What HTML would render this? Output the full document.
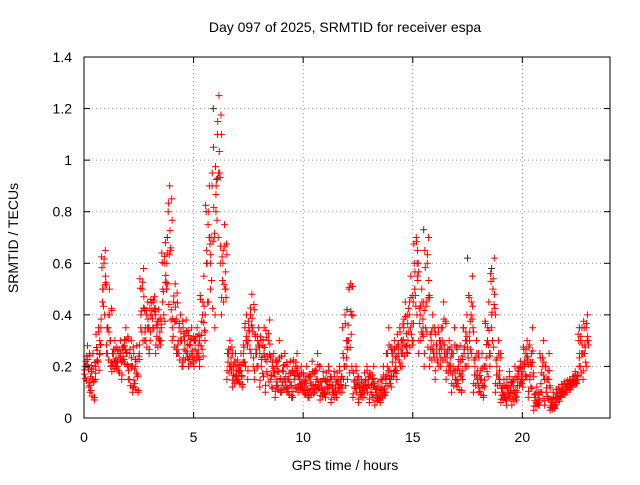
<!DOCTYPE html>
<html><head><meta charset="utf-8"><style>
body{margin:0;background:#fff;font-family:"Liberation Sans",sans-serif}
svg text{font-family:"Liberation Sans",sans-serif;font-size:14px;fill:#000}
</style></head><body>
<svg width="640" height="480">
<g id="grid"></g>
<g id="pts"></g>
<rect x="84" y="57" width="526" height="361" fill="none" stroke="#000"/>
<g id="ax"></g>
<text x="345" y="32" text-anchor="middle">Day 097 of 2025, SRMTID for receiver espa</text>
<text x="345" y="470" text-anchor="middle">GPS time / hours</text>
<text x="0" y="0" transform="translate(18,238) rotate(-90)" text-anchor="middle">SRMTID / TECUs</text>
</svg>
<script>
const xTicks=[0,5,10,15,20];
const yTicks=[0,0.2,0.4,0.6,0.8,1,1.2,1.4];
const yTickLabels=["0","0.2","0.4","0.6","0.8","1","1.2","1.4"];
const binStart=0,binStep=0.25;
const redValues=[
[.17,.22,.28,.12],[.10,.18,.25,.07],[.15,.22,.35,.30],[.35,.45,.6,.65],[.25,.35,.5,.2],[.18,.25,.3,.2],[.2,.25,.3,.15],[.22,.28,.35,.2],
[.15,.25,.3,.1],[.12,.2,.28,.1],[.25,.35,.5,.58],[.3,.4,.45,.25],[.3,.4,.45,.47],[.25,.35,.42,.3],[.3,.45,.6,.68],[.5,.8,.9,.38],
[.3,.45,.52,.25],[.25,.35,.4,.2],[.2,.3,.38,.25],[.2,.28,.35,.22],[.2,.3,.35,.25],[.2,.28,.4,.55],[.3,.6,.75,.9],[.5,.9,1.05,.35],
[.8,1.1,1.25,.6],[.4,.6,.75,.5],[.15,.25,.3,.2],[.12,.2,.25,.15],[.15,.18,.25,.12],[.25,.35,.4,.15],[.3,.4,.48,.2],[.15,.25,.3,.35],
[.12,.2,.28,.35],[.1,.18,.3,.38],[.15,.2,.25,.08],[.12,.18,.3,.1],[.1,.18,.25,.12],[.1,.15,.22,.08],[.08,.15,.2,.25],[.1,.15,.2,.12],
[.1,.12,.2,.08],[.08,.14,.22,.1],[.1,.15,.25,.12],[.07,.12,.18,.1],[.08,.12,.2,.15],[.06,.1,.18,.12],[.08,.12,.2,.15],[.1,.15,.4,.3],
[.15,.5,.52,.2],[.08,.12,.2,.15],[.06,.1,.15,.12],[.08,.12,.2,.15],[.06,.1,.15,.2],[.05,.1,.14,.08],[.06,.12,.2,.1],[.1,.2,.35,.15],
[.12,.25,.3,.2],[.15,.25,.35,.3],[.2,.35,.45,.28],[.25,.4,.55,.3],[.3,.5,.7,.65],[.25,.4,.5,.35],[.2,.35,.6,.7],[.2,.3,.4,.25],
[.15,.25,.35,.3],[.2,.3,.45,.25],[.15,.25,.3,.2],[.1,.2,.35,.15],[.12,.2,.28,.1],[.15,.25,.3,.4],[.2,.3,.4,.55],[.1,.2,.3,.15],
[.1,.15,.25,.08],[.12,.2,.3,.45],[.2,.35,.5,.62],[.1,.2,.3,.15],[.06,.1,.15,.08],[.05,.1,.18,.12],[.05,.12,.2,.08],[.1,.18,.22,.15],
[.12,.2,.25,.3],[.08,.15,.2,.35],[.03,.08,.12,.06],[.05,.1,.2,.3],[.05,.1,.15,.25],[.03,.06,.1,.04],[.05,.08,.12,.1],[.08,.1,.14,.12],
[.1,.12,.15,.14],[.12,.15,.18,.14],[.15,.2,.3,.35],[.15,.25,.35,.4]];
const darkTimes=[1.2,3.8,5.9,6.1,7.6,12.0,15.2,15.5,17.5,18.6,22.6];
const darkValues=[.3,.7,1.2,.93,.4,.42,.6,.73,.62,.58,.35];
const ns="http://www.w3.org/2000/svg";
const X=t=>84+t*(526/24), Y=v=>418-v*(361/1.4);
const grid=document.getElementById('grid'),ax=document.getElementById('ax'),pts=document.getElementById('pts');
function mk(tag,a,p){const e=document.createElementNS(ns,tag);for(const k in a)e.setAttribute(k,a[k]);p.appendChild(e);return e;}
yTicks.forEach((v,i)=>{
 if(i>0&&i<yTicks.length-1){const g=mk('line',{x1:84,x2:610,y1:Y(v),y2:Y(v),stroke:'#999','stroke-dasharray':'1,3'},grid);
 }
 const t=mk('line',{x1:84,x2:90,y1:Y(v),y2:Y(v),stroke:'#000'},ax);
 const t2=mk('line',{x1:604,x2:610,y1:Y(v),y2:Y(v),stroke:'#000'},ax);
 const l=mk('text',{x:72,y:Y(v)+5,'text-anchor':'end'},ax);l.textContent=yTickLabels[i];
 
});
xTicks.forEach(v=>{
 if(v>0){const g=mk('line',{x1:X(v),x2:X(v),y1:57,y2:418,stroke:'#999','stroke-dasharray':'1,3'},grid);
 }
 const t=mk('line',{x1:X(v),x2:X(v),y1:412,y2:418,stroke:'#000'},ax);
 const t2=mk('line',{x1:X(v),x2:X(v),y1:57,y2:63,stroke:'#000'},ax);
 const l=mk('text',{x:X(v),y:442,'text-anchor':'middle'},ax);l.textContent=String(v);
 
});
function plus(x,y,c){const p=mk('path',{d:`M${x-3.5},${y}h7M${x},${y-3.5}v7`,stroke:c,'stroke-width':1},pts);
 }
const offs=[0.02,0.09,0.16,0.22];
darkTimes.forEach((t,i)=>plus(X(t),Y(darkValues[i]),'#333'));
redValues.forEach((vals,b)=>{const t0=binStart+b*binStep;
 vals.forEach((v,k)=>{plus(X(t0+offs[k]),Y(v),'#f00');
  plus(X(t0+offs[(k+2)%4]+0.03),Y((v+vals[(k+1)%4])/2),'#f00');
  plus(X(t0+offs[(k+1)%4]+0.05),Y((2*v+vals[(k+2)%4])/3),'#f00');
  plus(X(t0+offs[(k+3)%4]+0.01),Y((v+2*vals[(k+3)%4])/3),'#f00');});
});
</script>
</body></html>
